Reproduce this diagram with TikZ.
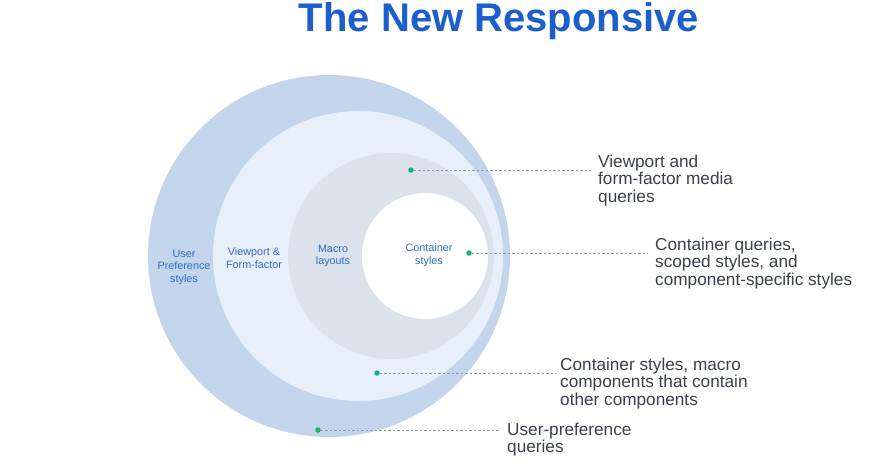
\documentclass[tikz,border=0pt]{standalone}
\usepackage{fontspec}
\setmainfont{Liberation Sans}
\definecolor{outerc}{HTML}{C2D5EB}
\definecolor{secondc}{HTML}{E7F0FA}
\definecolor{thirdc}{HTML}{DCE2EB}
\definecolor{labelblue}{HTML}{2F6CC4}
\definecolor{titleblue}{HTML}{1C5FCC}
\definecolor{dotgreen}{HTML}{17B27A}
\definecolor{dashc}{HTML}{8A9BB0}
\definecolor{textc}{HTML}{3A3F4A}
\tikzset{
  ring/.style={circle, inner sep=0pt},
  inlabel/.style={align=center, text=labelblue, font=\fontsize{10.8}{12.5}\selectfont},
  sidetext/.style={align=left, anchor=north west, text=textc, font=\fontsize{17.2}{17.2}\selectfont, inner sep=0pt},
  gdot/.style={circle, fill=dotgreen, minimum size=5.5pt, inner sep=0pt},
  leader/.style={dashc, dashed, dash pattern=on 2.5pt off 2pt, line width=0.7pt}
}
\begin{document}
\begin{tikzpicture}[x=1pt,y=-1pt]
\useasboundingbox (0,0) rectangle (874,469);
\node[ring, fill=outerc, minimum size=362pt] (c1) at (329,256) {};
\node[ring, fill=secondc, minimum size=290pt] (c2) at (358,256) {};
\node[ring, fill=thirdc, minimum size=206pt] (c3) at (391,256) {};
\node[ring, fill=white, minimum size=126pt] (c4) at (425,256) {};

\node[font=\bfseries\fontsize{40}{40}\selectfont, text=titleblue] (title) at (499,21) {The New Responsive};

\node[inlabel] (l1) at (184,267) {User\\Preference\\styles};
\node[inlabel] (l2) at (254,258) {Viewport \&\\Form-factor};
\node[inlabel] (l3) at (333,256) {Macro\\layouts};
\node[inlabel] (l4) at (429,255) {Container\\styles};

\node[gdot] (d1) at (411,170) {};
\node[gdot] (d2) at (469,253) {};
\node[gdot] (d3) at (377,373) {};
\node[gdot] (d4) at (318,430) {};

\coordinate (e1) at (590,170);
\coordinate (e2) at (648,253);
\coordinate (e3) at (556,373);
\coordinate (e4) at (499,430);

\draw[leader] (d1) -- (e1);
\draw[leader] (d2) -- (e2);
\draw[leader] (d3) -- (e3);
\draw[leader] (d4) -- (e4);

\node[sidetext] (t1) at (598,155) {Viewport and\\form-factor media\\queries};
\node[sidetext] (t2) at (655,238) {Container queries,\\scoped styles, and\\component-specific styles};
\node[sidetext] (t3) at (560,358) {Container styles, macro\\components that contain\\other components};
\node[sidetext] (t4) at (507,423) {User-preference\\queries};
\end{tikzpicture}
\end{document}
